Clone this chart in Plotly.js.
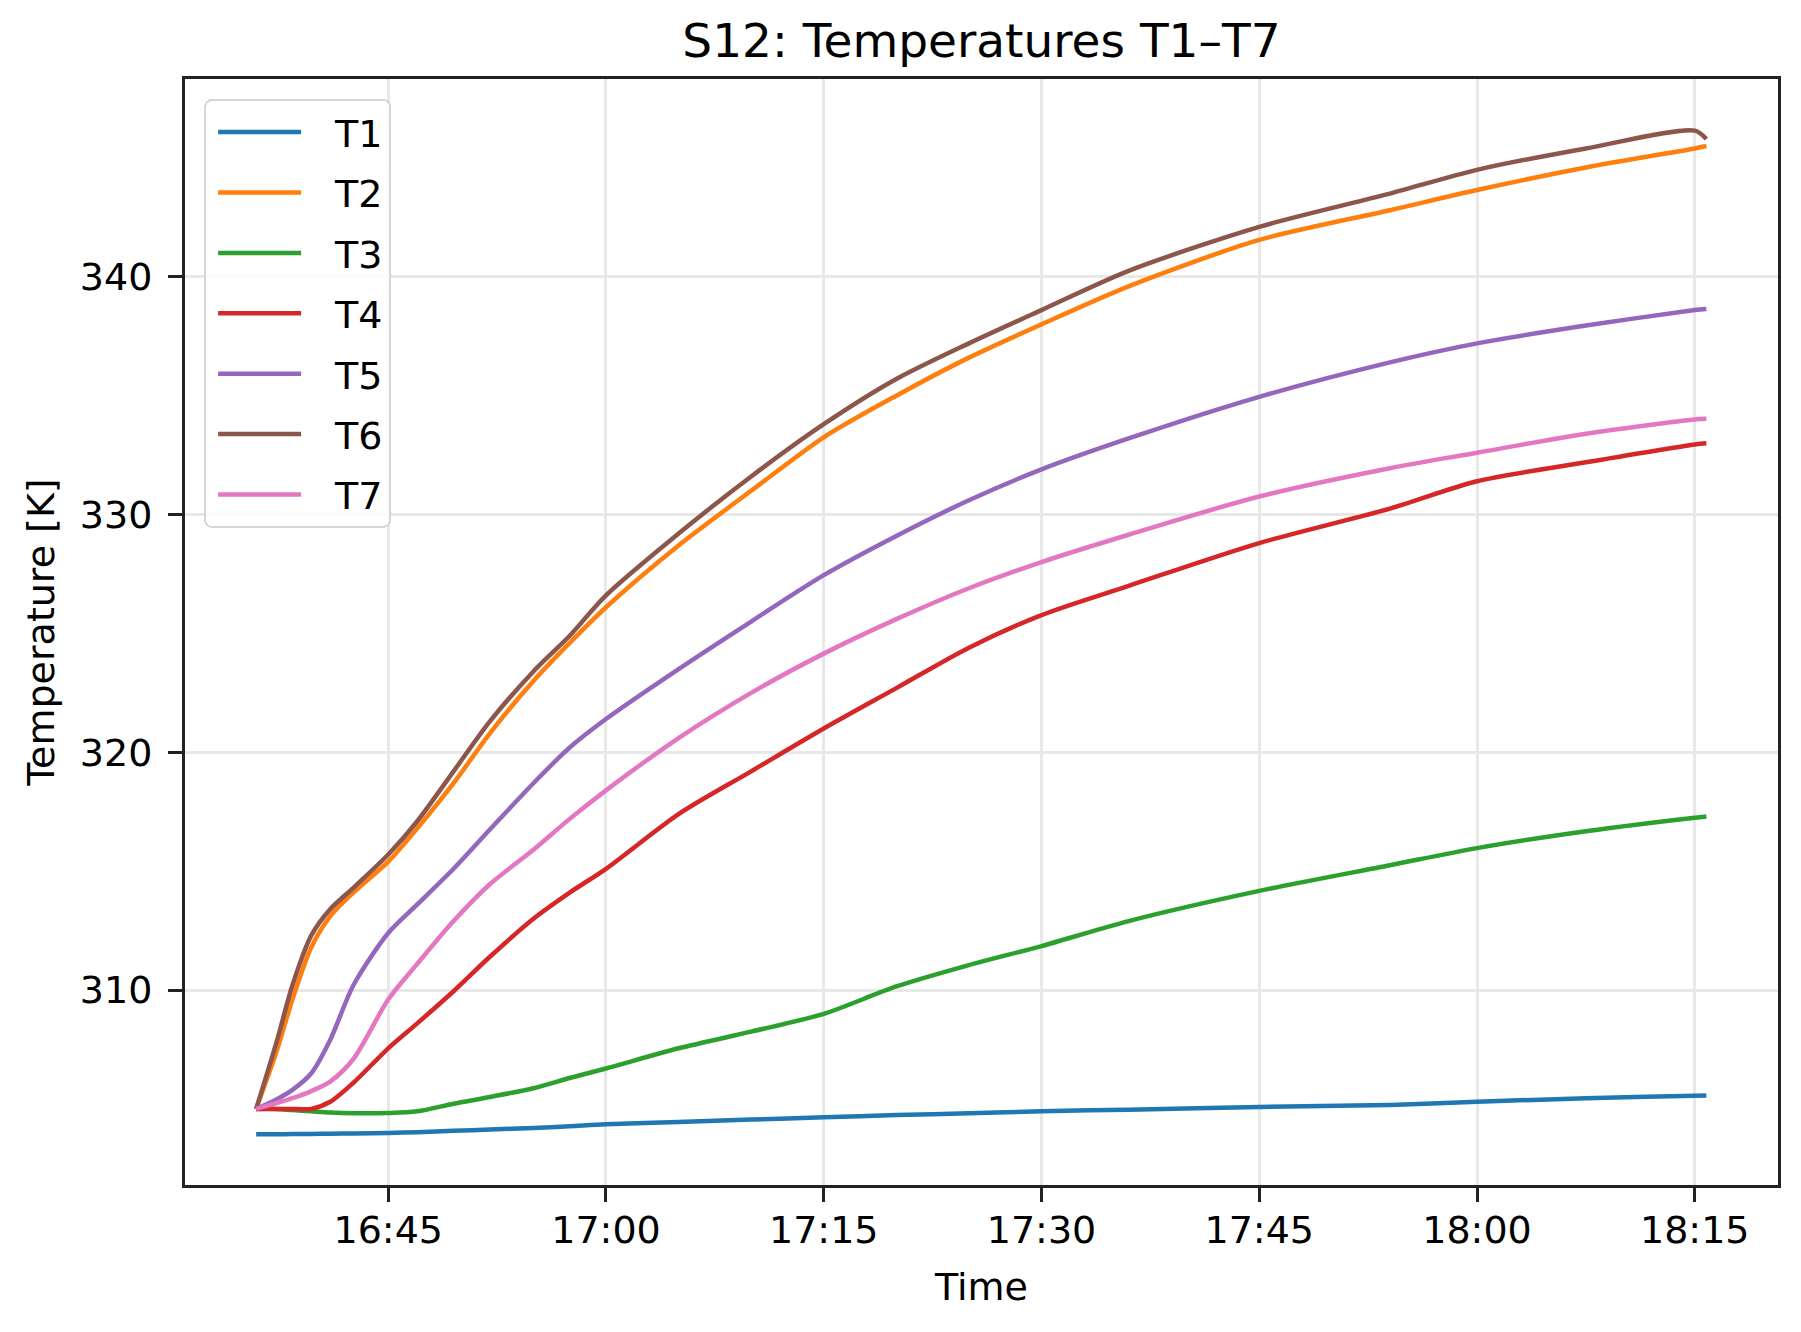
<!DOCTYPE html>
<html>
<head>
<meta charset="utf-8">
<script src="https://cdn.plot.ly/plotly-3.0.1.min.js"></script>
<style>
  html, body { margin: 0; padding: 0; background: #fff; }
  #chart { width: 1801px; height: 1332px; }
</style>
</head>
<body>
<div id="chart"></div>
<script>
// Sampling instants (clock time on the test day)
const day = "2024-05-14";
const times = [
  "16:35:54", "16:37:18", "16:38:24", "16:39:42", "16:41:00", "16:42:36",
  "16:45:00", "16:47:00", "16:49:30", "16:52:00", "16:55:00", "16:57:30",
  "17:00:00", "17:05:00", "17:10:00", "17:15:00", "17:20:00", "17:25:00",
  "17:30:00", "17:36:00", "17:45:00", "17:54:00", "18:00:00", "18:07:30",
  "18:15:00", "18:15:48"
];

// Sensor temperatures [K]
const T1 = [303.93, 303.93, 303.94, 303.95, 303.96, 303.97, 303.99, 304.02, 304.08, 304.13, 304.20, 304.27,
            304.35, 304.45, 304.55, 304.65, 304.74, 304.82, 304.90, 304.97, 305.08, 305.17, 305.30, 305.45,
            305.55, 305.56];
const T2 = [305.0, 307.4, 309.6, 311.8, 313.1, 314.1, 315.4, 316.8, 318.7, 320.8, 323.0, 324.6,
            326.1, 328.7, 331.0, 333.25, 335.0, 336.6, 338.0, 339.6, 341.55, 342.8, 343.65, 344.6,
            345.4, 345.5];
const T3 = [305.0, 305.0, 304.95, 304.9, 304.85, 304.82, 304.83, 304.9, 305.22, 305.5, 305.87, 306.3,
            306.7, 307.55, 308.25, 309.0, 310.15, 311.05, 311.85, 312.9, 314.17, 315.25, 315.97, 316.68,
            317.25, 317.3];
const T4 = [305.0, 305.0, 305.0, 305.0, 305.3, 306.1, 307.55, 308.6, 309.95, 311.4, 313.0, 314.1,
            315.1, 317.4, 319.2, 321.0, 322.7, 324.4, 325.77, 327.0, 328.8, 330.25, 331.4, 332.2,
            332.95, 333.0];
const T5 = [305.0, 305.4, 305.8, 306.5, 307.9, 310.2, 312.4, 313.6, 315.1, 316.75, 318.7, 320.2,
            321.4, 323.5, 325.5, 327.45, 329.1, 330.6, 331.9, 333.2, 334.95, 336.4, 337.2, 337.95,
            338.6, 338.65];
const T6 = [305.0, 307.8, 310.2, 312.3, 313.4, 314.3, 315.7, 317.1, 319.2, 321.3, 323.4, 324.9,
            326.6, 329.2, 331.6, 333.8, 335.7, 337.2, 338.6, 340.25, 342.1, 343.5, 344.5, 345.4,
            346.15, 345.8];
const T7 = [305.0, 305.25, 305.45, 305.75, 306.15, 307.1, 309.6, 311.1, 312.9, 314.45, 315.9, 317.2,
            318.4, 320.6, 322.5, 324.15, 325.6, 326.9, 328.0, 329.15, 330.76, 331.95, 332.6, 333.4,
            334.0, 334.03];

const seriesNames = ["T1", "T2", "T3", "T4", "T5", "T6", "T7"];
const seriesValues = [T1, T2, T3, T4, T5, T6, T7];
const seriesColors = ["#1f77b4", "#ff7f0e", "#2ca02c", "#d62728", "#9467bd", "#8c564b", "#e377c2"];

const yTicks = [310, 320, 330, 340];
const xTicks = ["16:45", "17:00", "17:15", "17:30", "17:45", "18:00", "18:15"];

const stamp = t => day + " " + (t.length === 5 ? t + ":00" : t);
const x = times.map(stamp);

const traces = seriesNames.map((name, i) => ({
  type: "scatter",
  mode: "lines",
  name: name,
  legendgroup: name,
  x: x,
  y: seriesValues[i],
  line: { color: seriesColors[i], width: 4.5, shape: "spline", smoothing: 0.8 }
}));

const FONT = "DejaVu Sans, Liberation Sans, sans-serif";
const AX = "#222222";

const layout = {
  width: 1801,
  height: 1332,
  margin: { l: 185, r: 23, t: 79, b: 147 },
  paper_bgcolor: "#ffffff",
  plot_bgcolor: "#ffffff",
  font: { family: FONT, color: "#000000", size: 38 },
  title: {
    text: "S12: Temperatures T1–T7",
    font: { family: FONT, size: 47, color: "#000000" },
    x: 0.5, xref: "paper", xanchor: "center",
    y: 1 - 41 / 1332, yref: "container", yanchor: "middle"
  },
  xaxis: {
    type: "date",
    range: [stamp("16:31:00"), stamp("18:20:44")],
    tickvals: xTicks.map(stamp),
    ticktext: xTicks,
    showgrid: true,
    gridcolor: "#e8e8e8",
    gridwidth: 3,
    zeroline: false,
    showline: true,
    linecolor: AX,
    linewidth: 3,
    mirror: true,
    ticks: "outside",
    ticklen: 14,
    tickwidth: 3,
    tickcolor: AX,
    ticklabelstandoff: -5,
    tickfont: { family: FONT, size: 38, color: "#000000" },
    title: { text: "Time", font: { family: FONT, size: 38, color: "#000000" }, standoff: 23 }
  },
  yaxis: {
    range: [301.8, 348.32],
    tickvals: yTicks,
    ticktext: yTicks.map(String),
    showgrid: true,
    gridcolor: "#e8e8e8",
    gridwidth: 3,
    zeroline: false,
    showline: true,
    linecolor: AX,
    linewidth: 3,
    mirror: true,
    ticks: "outside",
    ticklen: 14,
    tickwidth: 3,
    tickcolor: AX,
    ticklabelstandoff: 8,
    tickfont: { family: FONT, size: 38, color: "#000000" },
    title: { text: "Temperature [K]", font: { family: FONT, size: 38, color: "#000000" }, standoff: 14 }
  },
  showlegend: true,
  legend: {
    x: 0.012, xanchor: "left",
    y: 0.982, yanchor: "top",
    bgcolor: "rgba(255,255,255,0.85)",
    bordercolor: "#d6d6d6",
    borderwidth: 2,
    font: { family: FONT, size: 38, color: "#000000" },
    itemwidth: 119,
    tracegroupgap: 8,
    traceorder: "grouped"
  }
};

Plotly.newPlot("chart", traces, layout, { displayModeBar: false, staticPlot: true }).then(gd => {
  // Longer legend line samples and rounded legend frame
  gd.querySelectorAll(".legend .legendlines path").forEach(p => p.setAttribute("d", "M12,0h83"));
  const bg = gd.querySelector(".legend rect.bg");
  if (bg) { bg.setAttribute("rx", 7); bg.setAttribute("ry", 7); }
});
</script>
</body>
</html>
